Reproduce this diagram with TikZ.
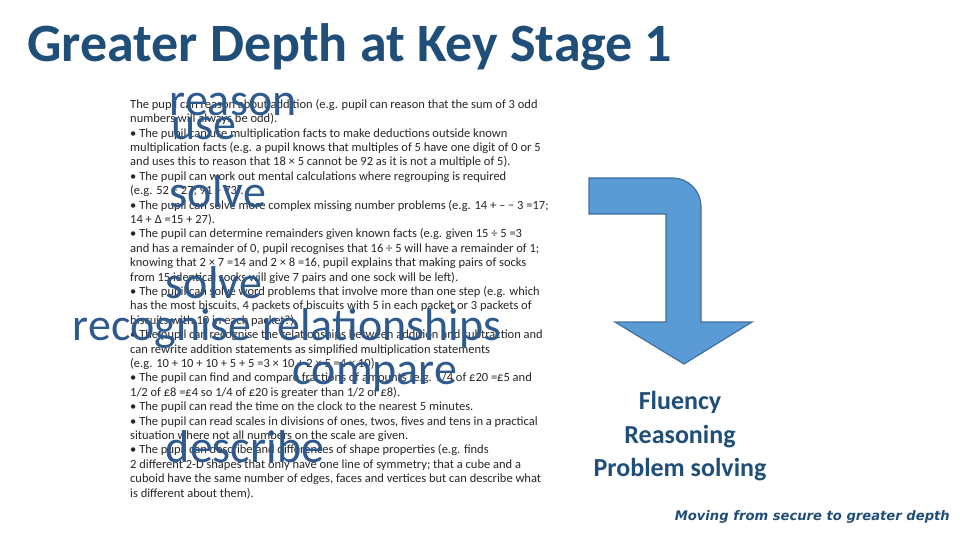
\documentclass[tikz,border=0pt]{standalone}
\usepackage{fontspec}
\setmainfont{Carlito}
\newfontfamily\footfont{DejaVu Sans}
\definecolor{titleblue}{HTML}{1F4E79}
\definecolor{wordblue}{HTML}{2E5A8E}
\definecolor{arrowfill}{HTML}{5B9BD5}
\definecolor{arrowline}{HTML}{41719C}
\definecolor{bodygrey}{HTML}{262626}
\begin{document}
\begin{tikzpicture}[x=1pt,y=-1pt,
  bigword/.style={font=\fontsize{46}{46}\selectfont, text=wordblue, anchor=base, inner sep=0pt},
  sideword/.style={font=\fontsize{26}{26}\selectfont\bfseries, text=titleblue, anchor=base, inner sep=0pt}]
\useasboundingbox[fill=white] (0,0) rectangle (960,540);
\node[anchor=base west, inner sep=0pt, text=titleblue] (title) at (27,62)
  {\resizebox{645pt}{!}{\bfseries Greater Depth at Key Stage 1}};
\node[anchor=north west, inner sep=0pt, text=bodygrey, align=left,
  font=\fontsize{12.5}{14.4}\selectfont] (body) at (130,99) {%
The pupil can reason about addition (e.g. pupil can reason that the sum of 3 odd\\
numbers will always be odd).\\
• The pupil can use multiplication facts to make deductions outside known\\
multiplication facts (e.g. a pupil knows that multiples of 5 have one digit of 0 or 5\\
and uses this to reason that 18 × 5 cannot be 92 as it is not a multiple of 5).\\
• The pupil can work out mental calculations where regrouping is required\\
(e.g. 52 − 27; 91 − 73).\\
• The pupil can solve more complex missing number problems (e.g. 14 + – − 3 =17;\\
14 + Δ =15 + 27).\\
• The pupil can determine remainders given known facts (e.g. given 15 ÷ 5 =3\\
and has a remainder of 0, pupil recognises that 16 ÷ 5 will have a remainder of 1;\\
knowing that 2 × 7 =14 and 2 × 8 =16, pupil explains that making pairs of socks\\
from 15 identical socks will give 7 pairs and one sock will be left).\\
• The pupil can solve word problems that involve more than one step (e.g. which\\
has the most biscuits, 4 packets of biscuits with 5 in each packet or 3 packets of\\
biscuits with 10 in each packet?).\\
• The pupil can recognise the relationships between addition and subtraction and\\
can rewrite addition statements as simplified multiplication statements\\
(e.g. 10 + 10 + 10 + 5 + 5 =3 × 10 + 2 × 5 =4 × 10).\\
• The pupil can find and compare fractions of amounts (e.g. 1/4 of £20 =£5 and\\
1/2 of £8 =£4 so 1/4 of £20 is greater than 1/2 of £8).\\
• The pupil can read the time on the clock to the nearest 5 minutes.\\
• The pupil can read scales in divisions of ones, twos, fives and tens in a practical\\
situation where not all numbers on the scale are given.\\
• The pupil can describe and differences of shape properties (e.g. finds\\
2 different 2-D shapes that only have one line of symmetry; that a cube and a\\
cuboid have the same number of edges, faces and vertices but can describe what\\
is different about them).};
\node[bigword] (w1) at (233,116) {reason};
\node[bigword] (w2) at (204,140) {use};
\node[bigword] (w3) at (218,207) {solve};
\node[bigword] (w4) at (214,298) {solve};
\node[bigword] (w5) at (287,340) {recognise relationships};
\node[bigword] (w6) at (375,384) {compare};
\node[bigword] (w7) at (245,462) {describe};
\draw[fill=arrowfill, draw=arrowline, line width=1.2pt, line join=miter]
  (589,178) -- (673,178) .. controls (688,178) and (701,191) .. (701,206)
  -- (701,322) -- (752,322) -- (684,364) -- (615,322) -- (666,322) -- (666,214) -- (589,214) -- cycle;
\node[sideword] (s1) at (680,409) {Fluency};
\node[sideword] (s2) at (680,443) {Reasoning};
\node[sideword] (s3) at (680,476) {Problem solving};
\node[anchor=base east, inner sep=0pt, text=titleblue] (foot) at (950,520)
  {\resizebox{275pt}{!}{\footfont\bfseries\itshape Moving from secure to greater depth}};
\end{tikzpicture}
\end{document}
